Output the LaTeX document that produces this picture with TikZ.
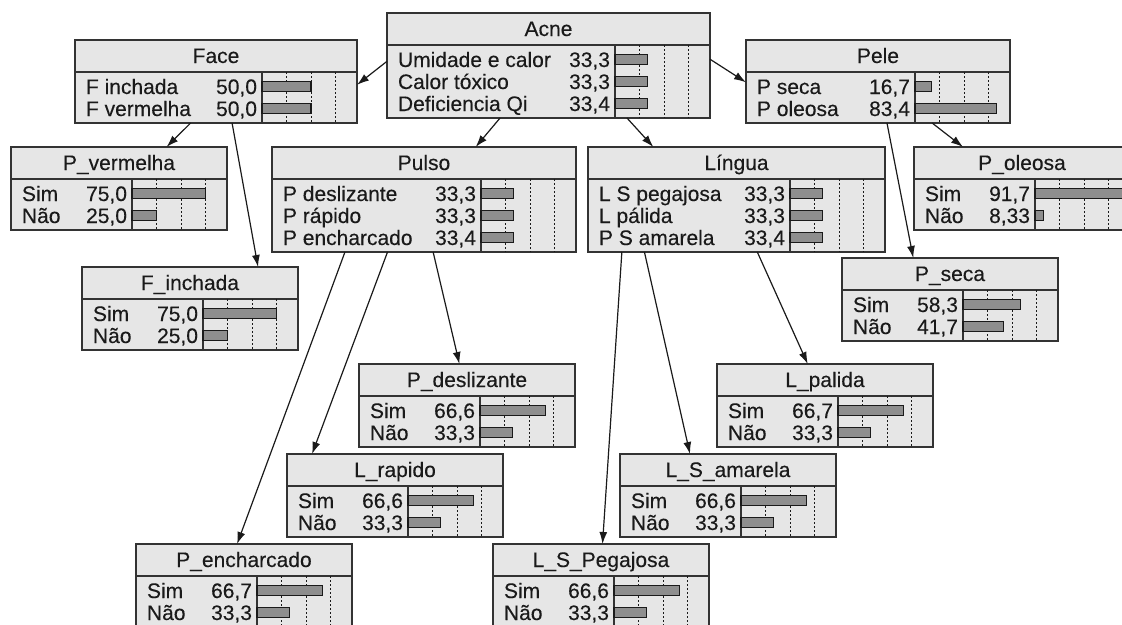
\documentclass[tikz,border=0pt]{standalone}
\usepackage{fontspec}
\setmainfont{Liberation Sans}
\newfontfamily\bnfont{Liberation Sans}[FakeBold=0.25]
\usetikzlibrary{calc,arrows.meta}

\definecolor{boxfill}{HTML}{E6E6E6}
\definecolor{boxedge}{HTML}{333333}
\definecolor{barfill}{HTML}{8E8E8E}
\definecolor{ink}{HTML}{1A1A1A}

% One belief box: name, left, top, width, number of states, title, states
% states are given as label/printed value/percentage
\newcommand{\bnbox}[7]{%
  \pgfmathsetmacro\bnH{32+22*#5+7}%
  \pgfmathsetmacro\bnBar{#2+#4-95}%
  \pgfmathsetmacro\bnHdr{#3+32}%
  \pgfmathsetmacro\bnBot{#3+\bnH}%
  \node[bnframe, minimum width=#4pt, minimum height=\bnH pt, anchor=north west] (#1) at (#2,#3) {};
  \draw[bnline] (#2,\bnHdr) -- (#2+#4,\bnHdr);
  \node[bntext, anchor=base] at (#2+#4/2,#3+23) {#6};
  \draw[bnline] (\bnBar,\bnHdr) -- (\bnBar,\bnBot);
  \foreach \k in {1,2,3} {\draw[bngrid] (\bnBar+24.5*\k,\bnHdr) -- (\bnBar+24.5*\k,\bnBot);}
  \foreach[count=\i] \lab/\val/\pct in {#7} {%
    \pgfmathsetmacro\ry{\bnHdr+14.5+22*(\i-1)}%
    \node[bntext, anchor=base west] at (#2+11,\ry+7.5) {\lab};
    \node[bntext, anchor=base east] at (\bnBar-5,\ry+7.5) {\val};
    \draw[bnbar] (\bnBar,\ry-5) rectangle (\bnBar+0.98*\pct,\ry+5);
  }%
}

\begin{document}
\begin{tikzpicture}[x=1pt,y=-1pt,
  bnframe/.style={draw=boxedge, fill=boxfill, line width=1.3pt, inner sep=0pt, outer sep=0pt},
  bnline/.style={draw=boxedge, line width=1.2pt},
  bngrid/.style={draw=ink, line width=0.8pt, dash pattern=on 2pt off 2pt},
  bnbar/.style={draw=ink, fill=barfill, line width=1.1pt},
  bntext/.style={inner sep=0pt, outer sep=0pt, text=ink, font=\bnfont\fontsize{21}{22}\selectfont},
  bnarrow/.style={draw=ink, line width=1.2pt, -{Latex[length=12pt,width=8pt]}}]
\useasboundingbox (0,0) rectangle (1122,624);
\clip (0,0) rectangle (1122,624);
\fill[white] (0,0) rectangle (1122,624);

% upper level
\bnbox{acne}{387}{13}{323}{3}{Acne}{Umidade e calor/{33,3}/33.3, Calor tóxico/{33,3}/33.3, Deficiencia Qi/{33,4}/33.4}
\bnbox{face}{75}{40}{282}{2}{Face}{F inchada/{50,0}/50, F vermelha/{50,0}/50}
\bnbox{pele}{746}{40}{264}{2}{Pele}{P seca/{16,7}/16.7, P oleosa/{83,4}/83.4}

% middle level
\bnbox{pvermelha}{11}{147}{216}{2}{P\_vermelha}{Sim/{75,0}/75, Não/{25,0}/25}
\bnbox{pulso}{272}{147}{304}{3}{Pulso}{P deslizante/{33,3}/33.3, P rápido/{33,3}/33.3, P encharcado/{33,4}/33.4}
\bnbox{lingua}{588}{147}{297}{3}{Língua}{L S pegajosa/{33,3}/33.3, L pálida/{33,3}/33.3, P S amarela/{33,4}/33.4}
\bnbox{poleosa}{914}{147}{216}{2}{P\_oleosa}{Sim/{91,7}/91.7, Não/{8,33}/8.33}
\bnbox{finchada}{82}{267}{216}{2}{F\_inchada}{Sim/{75,0}/75, Não/{25,0}/25}
\bnbox{pseca}{842}{258}{216}{2}{P\_seca}{Sim/{58,3}/58.3, Não/{41,7}/41.7}

% lower level
\bnbox{pdeslizante}{359}{364}{216}{2}{P\_deslizante}{Sim/{66,6}/66.6, Não/{33,3}/33.3}
\bnbox{lpalida}{717}{364}{216}{2}{L\_palida}{Sim/{66,7}/66.7, Não/{33,3}/33.3}
\bnbox{lrapido}{287}{454}{216}{2}{L\_rapido}{Sim/{66,6}/66.6, Não/{33,3}/33.3}
\bnbox{lsamarela}{620}{454}{216}{2}{L\_S\_amarela}{Sim/{66,6}/66.6, Não/{33,3}/33.3}
\bnbox{pencharcado}{136}{544}{216}{2}{P\_encharcado}{Sim/{66,7}/66.7, Não/{33,3}/33.3}
\bnbox{lspegajosa}{493}{544}{216}{2}{L\_S\_Pegajosa}{Sim/{66,6}/66.6, Não/{33,3}/33.3}

% links
\draw[bnarrow] ($(acne.north west)!0.46!(acne.south west)$) -- ($(face.north east)!0.54!(face.south east)$);
\draw[bnarrow] ($(acne.north east)!0.44!(acne.south east)$) -- ($(pele.north west)!0.51!(pele.south west)$);
\draw[bnarrow] ($(acne.south west)!0.35!(acne.south east)$) -- ($(pulso.north west)!0.67!(pulso.north east)$);
\draw[bnarrow] ($(acne.south west)!0.743!(acne.south east)$) -- ($(lingua.north west)!0.22!(lingua.north east)$);

\draw[bnarrow] ($(face.south west)!0.41!(face.south east)$) -- ($(pvermelha.north west)!0.72!(pvermelha.north east)$);
\draw[bnarrow] ($(face.south west)!0.557!(face.south east)$) -- ($(finchada.north west)!0.815!(finchada.north east)$);

\draw[bnarrow] ($(pele.south west)!0.705!(pele.south east)$) -- ($(poleosa.north west)!0.227!(poleosa.north east)$);
\draw[bnarrow] ($(pele.south west)!0.534!(pele.south east)$) -- ($(pseca.north west)!0.33!(pseca.north east)$);

\draw[bnarrow] ($(pulso.south west)!0.24!(pulso.south east)$) -- ($(pencharcado.north west)!0.468!(pencharcado.north east)$);
\draw[bnarrow] ($(pulso.south west)!0.38!(pulso.south east)$) -- ($(lrapido.north west)!0.116!(lrapido.north east)$);
\draw[bnarrow] ($(pulso.south west)!0.53!(pulso.south east)$) -- ($(pdeslizante.north west)!0.465!(pdeslizante.north east)$);

\draw[bnarrow] ($(lingua.south west)!0.114!(lingua.south east)$) -- ($(lspegajosa.north west)!0.507!(lspegajosa.north east)$);
\draw[bnarrow] ($(lingua.south west)!0.19!(lingua.south east)$) -- ($(lsamarela.north west)!0.324!(lsamarela.north east)$);
\draw[bnarrow] ($(lingua.south west)!0.57!(lingua.south east)$) -- ($(lpalida.north west)!0.42!(lpalida.north east)$);
\end{tikzpicture}
\end{document}
